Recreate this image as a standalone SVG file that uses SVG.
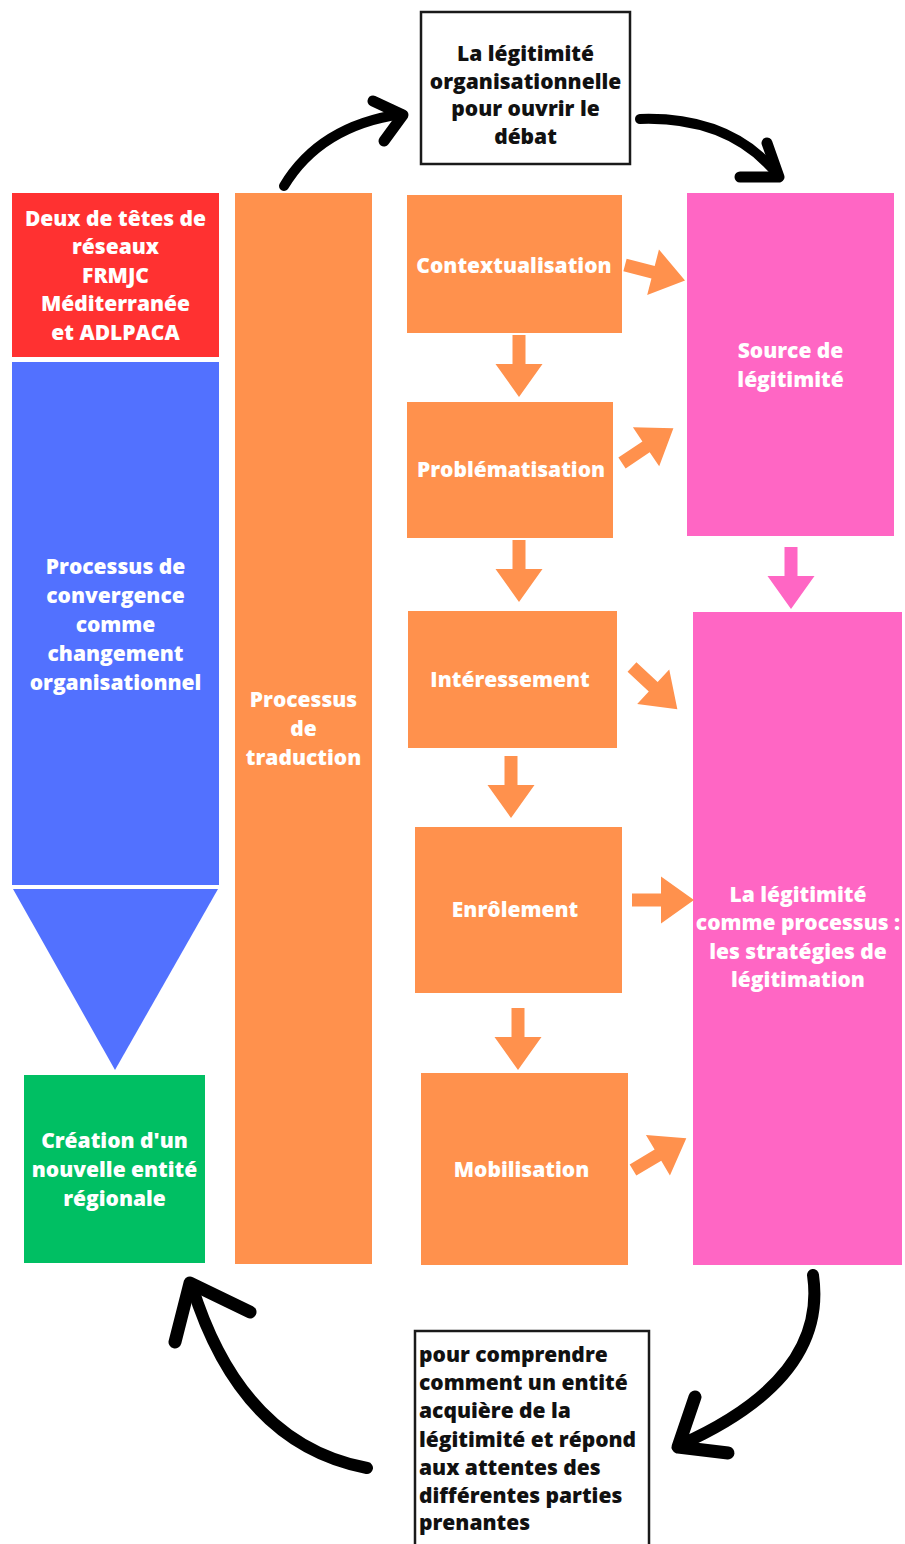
<svg xmlns="http://www.w3.org/2000/svg" width="905" height="1544" viewBox="0 0 905 1544">
<style>
.t{font-family:'Open Sans','DejaVu Sans',sans-serif;font-weight:800;font-size:21px;fill:#ffffff;text-anchor:middle}
.tb{font-family:'Open Sans','DejaVu Sans',sans-serif;font-weight:800;font-size:21px;fill:#111111}
.or{fill:#FF914D}
.pk{fill:#FF66C4}
.curve{fill:none;stroke:#000;stroke-linecap:round;stroke-linejoin:round}
.frame{fill:#fff;stroke:#1a1a1a;stroke-width:2.5}
</style>
<defs>
<polygon id="blk" points="-6.5,0 6.5,0 6.5,29 23.5,29 0,62 -23.5,29 -6.5,29"/>
</defs>
<rect width="905" height="1544" fill="#ffffff"/>

<g id="n-top">
<rect class="frame" x="421" y="12" width="209" height="152"/>
<text class="tb" text-anchor="middle" x="525.5" y="61">La légitimité</text>
<text class="tb" text-anchor="middle" x="525.5" y="89">organisationnelle</text>
<text class="tb" text-anchor="middle" x="525.5" y="116">pour ouvrir le</text>
<text class="tb" text-anchor="middle" x="525.5" y="144">débat</text>
</g>

<g id="n-red">
<rect x="12" y="193" width="207" height="164" fill="#FF3131"/>
<text class="t" x="115.5" y="226">Deux de têtes de</text>
<text class="t" x="115.5" y="254">réseaux</text>
<text class="t" x="115.5" y="283">FRMJC</text>
<text class="t" x="115.5" y="311">Méditerranée</text>
<text class="t" x="115.5" y="340">et ADLPACA</text>
</g>

<g id="n-blue">
<rect x="12" y="362" width="207" height="523" fill="#5271FF"/>
<polygon points="13,889 218,889 115,1070" fill="#5271FF"/>
<text class="t" x="115.5" y="574">Processus de</text>
<text class="t" x="115.5" y="603">convergence</text>
<text class="t" x="115.5" y="632">comme</text>
<text class="t" x="115.5" y="661">changement</text>
<text class="t" x="115.5" y="690">organisationnel</text>
</g>

<g id="n-green">
<rect x="24" y="1075" width="181" height="188" fill="#00BF63"/>
<text class="t" x="114.5" y="1148">Création d'un</text>
<text class="t" x="114.5" y="1177">nouvelle entité</text>
<text class="t" x="114.5" y="1206">régionale</text>
</g>

<g id="n-traduction">
<rect class="or" x="235" y="193" width="137" height="1071"/>
<text class="t" x="303.5" y="707">Processus</text>
<text class="t" x="303.5" y="736">de</text>
<text class="t" x="303.5" y="765">traduction</text>
</g>

<g id="n-context">
<rect class="or" x="407" y="195" width="215" height="138"/>
<text class="t" x="514" y="273">Contextualisation</text>
</g>
<g id="n-probl">
<rect class="or" x="407" y="402" width="206" height="136"/>
<text class="t" x="511" y="477">Problématisation</text>
</g>
<g id="n-interess">
<rect class="or" x="408" y="611" width="209" height="137"/>
<text class="t" x="510" y="687">Intéressement</text>
</g>
<g id="n-enrol">
<rect class="or" x="415" y="827" width="207" height="166"/>
<text class="t" x="515" y="917">Enrôlement</text>
</g>
<g id="n-mobil">
<rect class="or" x="421" y="1073" width="207" height="192"/>
<text class="t" x="521.5" y="1177">Mobilisation</text>
</g>

<g id="n-source">
<rect class="pk" x="687" y="193" width="207" height="343"/>
<text class="t" x="790.5" y="358">Source de</text>
<text class="t" x="790.5" y="387">légitimité</text>
</g>
<g id="n-legit">
<rect class="pk" x="693" y="612" width="209" height="653"/>
<text class="t" x="798" y="902">La légitimité</text>
<text class="t" x="798" y="930">comme processus :</text>
<text class="t" x="798" y="959">les stratégies de</text>
<text class="t" x="798" y="987">légitimation</text>
</g>

<g id="n-bottom">
<rect class="frame" x="415" y="1331" width="234" height="230"/>
<text class="tb" x="419" y="1362">pour comprendre</text>
<text class="tb" x="419" y="1390">comment un entité</text>
<text class="tb" x="419" y="1418">acquière de la</text>
<text class="tb" x="419" y="1447">légitimité et répond</text>
<text class="tb" x="419" y="1475">aux attentes des</text>
<text class="tb" x="419" y="1503">différentes parties</text>
<text class="tb" x="419" y="1530">prenantes</text>
</g>

<g id="connectors">
<use href="#blk" class="or" transform="translate(519,335)"/>
<use href="#blk" class="or" transform="translate(519,540)"/>
<use href="#blk" class="or" transform="translate(511,756)"/>
<use href="#blk" class="or" transform="translate(518,1008)"/>
<use href="#blk" class="pk" transform="translate(791,547)"/>
<use href="#blk" class="or" transform="translate(625,265) rotate(-75.5)"/>
<use href="#blk" class="or" transform="translate(622,463) rotate(-124)"/>
<use href="#blk" class="or" transform="translate(632,667) rotate(-47)"/>
<use href="#blk" class="or" transform="translate(632,900) rotate(-90)"/>
<use href="#blk" class="or" transform="translate(633,1170) rotate(-120.7)"/>

<path class="curve" stroke-width="10" d="M284,186 Q320,126 401,114"/>
<path class="curve" stroke-width="11" d="M373,101 L403,115 L384,141"/>
<path class="curve" stroke-width="10" d="M640,119 Q730,116 778,175"/>
<path class="curve" stroke-width="11" d="M767,143 L779,177 L740,177"/>
<path class="curve" stroke-width="12" d="M813,1275 Q828,1379 680,1445"/>
<path class="curve" stroke-width="13" d="M695,1397 L678,1447 L728,1453"/>
<path class="curve" stroke-width="12" d="M367,1468 Q241,1444 192,1286"/>
<path class="curve" stroke-width="13" d="M250,1312 L190,1283 L175,1342"/>
</g>
</svg>
